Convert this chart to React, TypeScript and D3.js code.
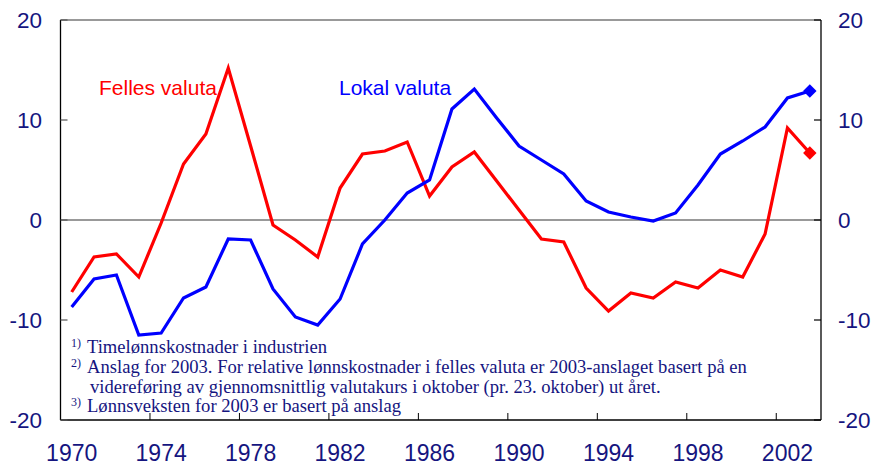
import React, { useEffect, useRef } from 'react';
import * as d3 from 'd3';

// years on the category axis
const years = [
  1970, 1971, 1972, 1973, 1974, 1975, 1976, 1977, 1978, 1979,
  1980, 1981, 1982, 1983, 1984, 1985, 1986, 1987, 1988, 1989,
  1990, 1991, 1992, 1993, 1994, 1995, 1996, 1997, 1998, 1999,
  2000, 2001, 2002, 2003,
];

// Felles valuta (red)
const felles = [
  -7.2, -3.7, -3.4, -5.7, -0.3, 5.6, 8.6, 15.2, 7.4, -0.5,
  -2.0, -3.7, 3.2, 6.6, 6.9, 7.8, 2.4, 5.3, 6.8, 3.9,
  1.0, -1.9, -2.2, -6.8, -9.1, -7.3, -7.8, -6.2, -6.8, -5.0,
  -5.7, -1.4, 9.2, 6.7,
];

// Lokal valuta (blue)
const lokal = [
  -8.7, -5.9, -5.5, -11.5, -11.3, -7.8, -6.7, -1.9, -2.0, -6.9,
  -9.7, -10.5, -7.9, -2.4, 0.0, 2.7, 4.0, 11.1, 13.1, 10.2,
  7.4, 6.0, 4.6, 1.9, 0.8, 0.3, -0.1, 0.7, 3.5, 6.6,
  7.9, 9.3, 12.2, 12.9,
];

const yTicks = [20, 10, 0, -10, -20];
const xLabels = [1970, 1974, 1978, 1982, 1986, 1990, 1994, 1998, 2002];
const xTickYears = [1974, 1978, 1982, 1986, 1990, 1994, 1998, 2002];

const footnotes = [
  { sup: '1)', text: 'Timelønnskostnader i industrien' },
  { sup: '2)', text: 'Anslag for 2003. For relative lønnskostnader i felles valuta er 2003-anslaget basert på en' },
  { sup: '', text: 'videreføring av gjennomsnittlig valutakurs i oktober (pr. 23. oktober) ut året.' },
  { sup: '3)', text: 'Lønnsveksten for 2003 er basert på anslag' },
];

const navy = '#15157f';

function Chart() {
  const ref = useRef(null);

  useEffect(() => {
    const svg = d3.select(ref.current);
    svg.selectAll('*').remove();

    const left = 60.5, right = 821, top = 20, bottom = 420;

    const x = d3.scaleBand().domain(years.map(String)).range([left, right]).padding(0);
    const cx = (yr) => x(String(yr)) + x.bandwidth() / 2;
    const y = d3.scaleLinear().domain([-20, 20]).range([bottom, top]);

    const g = svg.append('g');

    // top frame and zero line (grey)
    g.append('line').attr('x1', left).attr('x2', right).attr('y1', y(20)).attr('y2', y(20))
      .attr('stroke', '#777').attr('stroke-width', 1.3);
    g.append('line').attr('x1', left).attr('x2', right).attr('y1', y(0)).attr('y2', y(0))
      .attr('stroke', '#777').attr('stroke-width', 1.3);

    // axes lines
    g.append('line').attr('x1', left).attr('x2', left).attr('y1', top).attr('y2', bottom)
      .attr('stroke', '#000').attr('stroke-width', 1.3);
    g.append('line').attr('x1', right).attr('x2', right).attr('y1', top).attr('y2', bottom)
      .attr('stroke', '#000').attr('stroke-width', 1.3);
    g.append('line').attr('x1', left).attr('x2', right).attr('y1', bottom).attr('y2', bottom)
      .attr('stroke', '#000').attr('stroke-width', 1.3);

    // y ticks on both sides
    g.selectAll('.ltick').data(yTicks).enter().append('line')
      .attr('x1', left).attr('x2', left + 7).attr('y1', d => y(d)).attr('y2', d => y(d))
      .attr('stroke', '#555').attr('stroke-width', 1.2);
    g.selectAll('.rtick').data(yTicks).enter().append('line')
      .attr('x1', right - 7).attr('x2', right).attr('y1', d => y(d)).attr('y2', d => y(d))
      .attr('stroke', '#000').attr('stroke-width', 1.2);

    // x ticks at band boundaries
    g.selectAll('.xtick').data(xTickYears).enter().append('line')
      .attr('x1', d => x(String(d))).attr('x2', d => x(String(d)))
      .attr('y1', bottom).attr('y2', bottom - 7)
      .attr('stroke', '#000').attr('stroke-width', 1);

    // y labels
    g.selectAll('.ylabL').data(yTicks).enter().append('text')
      .attr('x', 42).attr('y', d => y(d)).attr('dy', '0.36em')
      .attr('text-anchor', 'end')
      .attr('font-family', '"Liberation Sans", Arial, sans-serif')
      .attr('font-size', 22.5).attr('fill', navy)
      .text(d => d);
    g.selectAll('.ylabR').data(yTicks).enter().append('text')
      .attr('x', 838).attr('y', d => y(d)).attr('dy', '0.36em')
      .attr('text-anchor', 'start')
      .attr('font-family', '"Liberation Sans", Arial, sans-serif')
      .attr('font-size', 22.5).attr('fill', navy)
      .text(d => d);

    // x labels
    g.selectAll('.xlab').data(xLabels).enter().append('text')
      .attr('x', d => cx(d)).attr('y', 461)
      .attr('text-anchor', 'middle')
      .attr('font-family', '"Liberation Sans", Arial, sans-serif')
      .attr('font-size', 23).attr('fill', navy)
      .text(d => d);

    // lines
    const series = [
      { values: felles, color: '#ff0000' },
      { values: lokal, color: '#0000ff' },
    ];
    const line = d3.line().x(d => cx(d[0])).y(d => y(d[1]));
    series.forEach(s => {
      const pts = years.map((yr, i) => [yr, s.values[i]]);
      g.append('path').attr('d', line(pts))
        .attr('fill', 'none').attr('stroke', s.color)
        .attr('stroke-width', 3.2).attr('stroke-linejoin', 'miter');
      const last = pts[pts.length - 1];
      g.append('path')
        .attr('d', d3.symbol().type(d3.symbolDiamond2).size(115)())
        .attr('transform', `translate(${cx(last[0])},${y(last[1])})`)
        .attr('fill', s.color);
    });

    // series labels
    g.append('text').attr('x', 99).attr('y', 95)
      .attr('font-family', '"Liberation Sans", Arial, sans-serif')
      .attr('font-size', 21).attr('fill', '#ff0000').text('Felles valuta');
    g.append('text').attr('x', 339).attr('y', 95)
      .attr('font-family', '"Liberation Sans", Arial, sans-serif')
      .attr('font-size', 21).attr('fill', '#0000ff').text('Lokal valuta');

    // footnotes
    const fy = [353, 372.5, 392.5, 412];
    footnotes.forEach((f, i) => {
      if (f.sup) {
        g.append('text').attr('x', 71).attr('y', fy[i] - 6)
          .attr('font-family', '"Liberation Serif", "Times New Roman", serif')
          .attr('font-size', 12).attr('fill', navy).text(f.sup);
      }
      g.append('text').attr('x', f.sup ? 87 : 90).attr('y', fy[i])
        .attr('font-family', '"Liberation Serif", "Times New Roman", serif')
        .attr('font-size', 18.6).attr('fill', navy).text(f.text);
    });
  }, []);

  return (
    <svg ref={ref} width={876} height={465}
      style={{ position: 'absolute', left: 0, top: 0, background: '#fff' }} />
  );
}

export default function App() {
  return <Chart />;
}
